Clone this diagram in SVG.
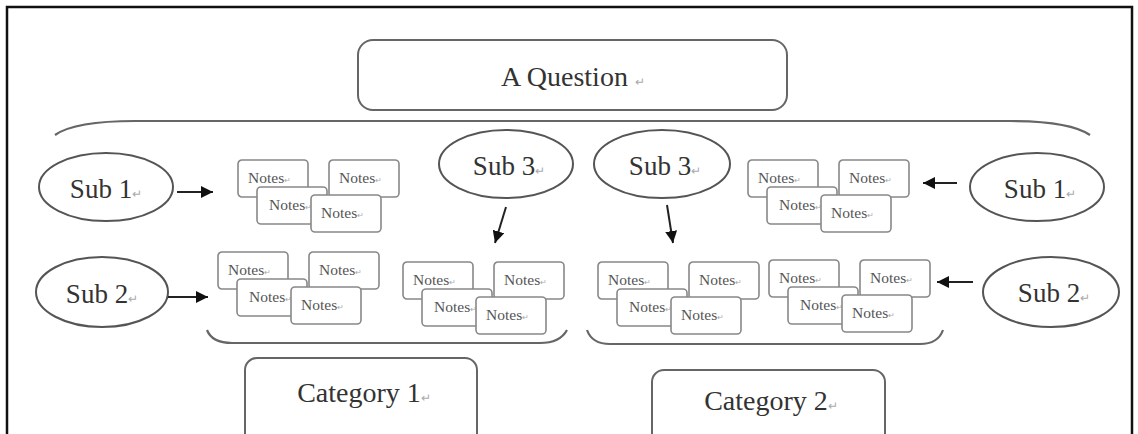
<svg xmlns="http://www.w3.org/2000/svg" width="1138" height="434" viewBox="0 0 1138 434">
  <style>
    .frame { fill: none; stroke: #111; stroke-width: 2.5; }
    .box { fill: #fff; stroke: #666; stroke-width: 2; }
    .oval { fill: #fff; stroke: #555; stroke-width: 2; }
    .note { fill: #fff; stroke: #888; stroke-width: 1.6; }
    .brace { fill: none; stroke: #666; stroke-width: 2.2; }
    .conn { fill: none; stroke: #222; stroke-width: 2; }
    .big { font-family: "Liberation Serif", "Times New Roman", serif; font-size: 27px; fill: #333; }
    .title { font-family: "Liberation Serif", "Times New Roman", serif; font-size: 28px; fill: #333; }
    .nt { font-family: "Liberation Serif", "Times New Roman", serif; font-size: 15.5px; fill: #555; }
    .mk { font-size: 12px; fill: #aaa; }
    .mks { font-size: 8px; fill: #aaa; }
  </style>
  <defs>
    <marker id="ah" viewBox="0 0 10 10" refX="10" refY="5" markerWidth="6" markerHeight="6" markerUnits="strokeWidth" orient="auto">
      <path d="M0,0 L10,5 L0,10 Z" fill="#111"/>
    </marker>
    <g id="cluster">
      <rect class="note" x="0" y="0" width="70" height="37" rx="4"/>
      <text class="nt" x="10" y="23">Notes<tspan class="mks">↵</tspan></text>
      <rect class="note" x="91" y="0" width="70" height="37" rx="4"/>
      <text class="nt" x="101" y="23">Notes<tspan class="mks">↵</tspan></text>
      <rect class="note" x="19" y="27" width="70" height="37" rx="4"/>
      <text class="nt" x="31" y="50">Notes<tspan class="mks">↵</tspan></text>
      <rect class="note" x="73" y="35" width="70" height="37" rx="4"/>
      <text class="nt" x="83" y="58">Notes<tspan class="mks">↵</tspan></text>
    </g>
  </defs>

  <rect class="frame" x="7" y="7" width="1125" height="440"/>

  <g id="question">
    <rect class="box" x="358" y="40" width="429" height="70" rx="15"/>
    <text class="title" x="573" y="86" text-anchor="middle">A Question <tspan class="mk">↵</tspan></text>
  </g>

  <g id="top-brace">
    <path class="brace" d="M55,135 Q75,121 135,121 L1010,121 Q1070,121 1090,135"/>
  </g>

  <g id="sub1-left">
    <ellipse class="oval" cx="106" cy="187" rx="67" ry="34"/>
    <text class="big" x="106" y="198" text-anchor="middle">Sub 1<tspan class="mk">↵</tspan></text>
  </g>
  <g id="sub2-left">
    <ellipse class="oval" cx="102" cy="292" rx="66" ry="35"/>
    <text class="big" x="102" y="303" text-anchor="middle">Sub 2<tspan class="mk">↵</tspan></text>
  </g>
  <g id="sub3-left">
    <ellipse class="oval" cx="506" cy="164" rx="67" ry="34"/>
    <text class="big" x="509" y="175" text-anchor="middle">Sub 3<tspan class="mk">↵</tspan></text>
  </g>
  <g id="sub3-right">
    <ellipse class="oval" cx="662" cy="164" rx="68" ry="34"/>
    <text class="big" x="665" y="175" text-anchor="middle">Sub 3<tspan class="mk">↵</tspan></text>
  </g>
  <g id="sub1-right">
    <ellipse class="oval" cx="1037" cy="187" rx="67" ry="34"/>
    <text class="big" x="1040" y="198" text-anchor="middle">Sub 1<tspan class="mk">↵</tspan></text>
  </g>
  <g id="sub2-right">
    <ellipse class="oval" cx="1051" cy="292" rx="68" ry="35"/>
    <text class="big" x="1054" y="302" text-anchor="middle">Sub 2<tspan class="mk">↵</tspan></text>
  </g>

  <g id="notes-1"><use href="#cluster" x="238" y="160"/></g>
  <g id="notes-2"><use href="#cluster" x="218" y="252"/></g>
  <g id="notes-3"><use href="#cluster" x="403" y="262"/></g>
  <g id="notes-4"><use href="#cluster" x="598" y="262"/></g>
  <g id="notes-5"><use href="#cluster" x="748" y="160"/></g>
  <g id="notes-6"><use href="#cluster" x="769" y="260"/></g>

  <g id="bottom-braces">
    <path class="brace" d="M207,330 Q212,343 232,343 L540,343 Q560,343 567,330"/>
    <path class="brace" d="M587,330 Q592,344 610,344 L920,344 Q938,344 943,330"/>
  </g>

  <g id="category-1">
    <rect class="box" x="245" y="358" width="232" height="100" rx="12"/>
    <text class="title" x="364" y="402" text-anchor="middle">Category 1<tspan class="mk">↵</tspan></text>
  </g>
  <g id="category-2">
    <rect class="box" x="652" y="370" width="233" height="100" rx="12"/>
    <text class="title" x="771" y="410" text-anchor="middle">Category 2<tspan class="mk">↵</tspan></text>
  </g>

  <g id="connectors">
    <line class="conn" x1="177" y1="192" x2="213" y2="192" marker-end="url(#ah)"/>
    <line class="conn" x1="168" y1="297" x2="208" y2="297" marker-end="url(#ah)"/>
    <line class="conn" x1="506" y1="207" x2="495" y2="243" marker-end="url(#ah)"/>
    <line class="conn" x1="667" y1="205" x2="673" y2="243" marker-end="url(#ah)"/>
    <line class="conn" x1="957" y1="183" x2="923" y2="183" marker-end="url(#ah)"/>
    <line class="conn" x1="973" y1="282" x2="937" y2="282" marker-end="url(#ah)"/>
  </g>
</svg>
